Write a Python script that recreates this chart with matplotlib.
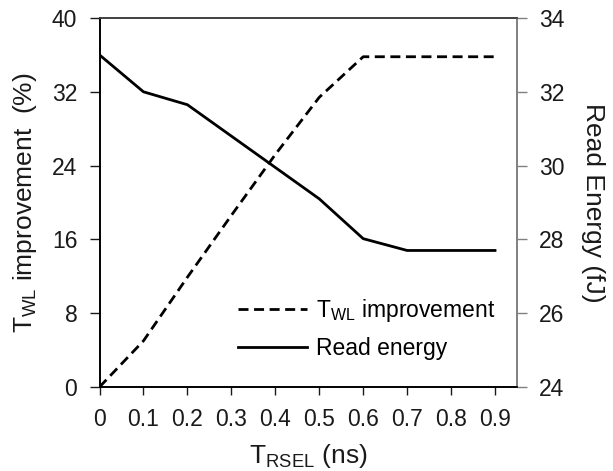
import matplotlib
matplotlib.use("Agg")
import matplotlib.pyplot as plt

# ---- data ----
t_rsel = [0, 0.1, 0.2, 0.3, 0.4, 0.5, 0.6, 0.7, 0.8, 0.9]
twl_improvement = [0, 5.0, 11.9, 18.6, 25.2, 31.4, 35.8, 35.8, 35.8, 35.8]
read_energy = [33.0, 32.0, 31.65, 30.8, 29.95, 29.1, 28.02, 27.7, 27.7, 27.7]
x_ticks = [0, 0.1, 0.2, 0.3, 0.4, 0.5, 0.6, 0.7, 0.8, 0.9]
x_ticklabels = ["0", "0.1", "0.2", "0.3", "0.4", "0.5", "0.6", "0.7", "0.8", "0.9"]
left_ticks = [0, 8, 16, 24, 32, 40]
right_ticks = [24, 26, 28, 30, 32, 34]

plt.rcParams["font.family"] = ["Liberation Sans", "DejaVu Sans"]
plt.rcParams["mathtext.fontset"] = "custom"
plt.rcParams["mathtext.rm"] = "Liberation Sans"
plt.rcParams["mathtext.it"] = "Liberation Sans:italic"
plt.rcParams["mathtext.bf"] = "Liberation Sans:bold"

fig = plt.figure(figsize=(6.13, 4.71), dpi=100)
ax = fig.add_axes([99.5 / 613, 84 / 471, (517 - 99.5) / 613, (387 - 18) / 471])
ax2 = ax.twinx()

txt = "#1a1a1a"
l1, = ax.plot(t_rsel, twl_improvement, color="black", lw=2.0, ls=(0, (3.6, 2.0)),
              label=r"T$_{\mathrm{WL}}$ improvement")
l2, = ax2.plot(t_rsel, read_energy, color="black", lw=2.0, label="Read energy")

ax.set_xlim(0, 0.95)
ax.set_ylim(0, 40)
ax2.set_ylim(24, 34)
ax.set_xticks(x_ticks)
ax.set_xticklabels(x_ticklabels)
ax.set_yticks(left_ticks)
ax2.set_yticks(right_ticks)

ax.tick_params(axis="x", direction="out", length=6, width=1, labelsize=16.5, pad=9, colors=txt)
ax.tick_params(axis="y", direction="out", length=7, width=1, labelsize=16.5, pad=9, colors=txt)
ax2.tick_params(axis="y", direction="out", length=7, width=1, labelsize=16.5, pad=9,
                color="#808080", labelcolor=txt)

for a in (ax, ax2):
    a.spines["left"].set_color("black")
    a.spines["bottom"].set_color("black")
    a.spines["top"].set_color("#404040")
    a.spines["right"].set_color("#808080")
    for s in a.spines.values():
        s.set_linewidth(1.2)

ax.set_xlabel(r"T$_{\mathrm{RSEL}}$ (ns)", fontsize=19, color=txt, labelpad=8)
ax.set_ylabel(r"T$_{\mathrm{WL}}$ improvement  (%)", fontsize=19, color=txt, labelpad=9)
ax2.set_ylabel("Read Energy (fJ)", fontsize=19, color=txt, rotation=-90, labelpad=29)

ax2.legend(handles=[l1, l2], loc="upper left", bbox_to_anchor=(238 / 613, (471 - 297) / 471),
           bbox_transform=fig.transFigure, frameon=False, fontsize=16.5,
           handlelength=3.0, handletextpad=0.4, labelspacing=0.55,
           borderpad=0, borderaxespad=0)

fig.savefig("out.png", dpi=100)
